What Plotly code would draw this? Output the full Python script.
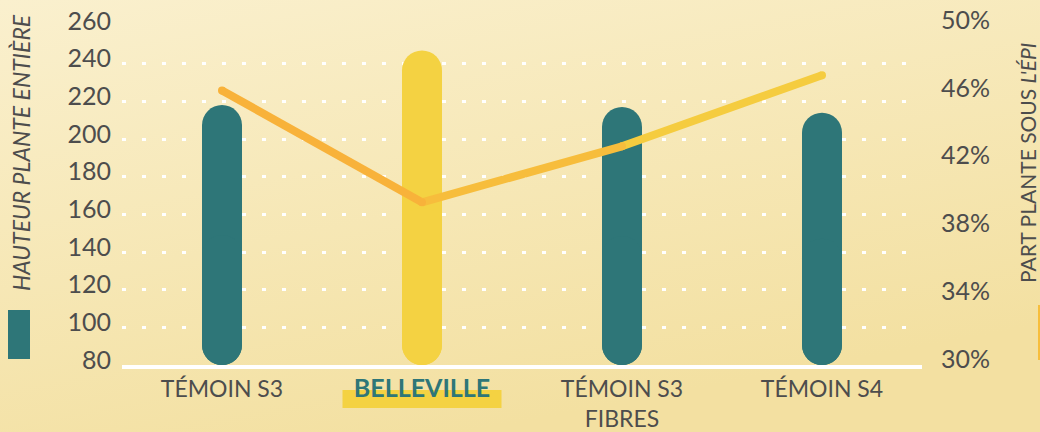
import base64
import plotly.graph_objects as go

# ---------------- data ----------------
categories = ["TÉMOIN S3", "BELLEVILLE", "TÉMOIN S3<br>FIBRES", "TÉMOIN S4"]
hauteur = [218, 247, 217, 214]            # hauteur plante entière (left axis)
part_epi = [46.2, 39.6, 42.9, 47.1]       # part plante sous l'épi, % (right axis)
left_ticks = [80, 100, 120, 140, 160, 180, 200, 220, 240, 260]
right_ticks = [30, 34, 38, 42, 46, 50]
right_tick_labels = ["30%", "34%", "38%", "42%", "46%", "50%"]
highlight = "BELLEVILLE"
left_title = "<i>HAUTEUR PLANTE ENTIÈRE</i>"
right_title = "PART PLANTE SOUS <i>L'ÉPI</i>"

# ---------------- style ----------------
W, H = 1040, 432
ML, MR, MT, MB = 122, 118, 26, 67
PW, PH = W - ML - MR, H - MT - MB
TEAL = "#2E7678"
YELLOW = "#F4D242"
TXT = "#4D4D4D"
SEG_COLORS = ["#F8B23A", "#F7BD3C", "#F5CC3F"]
FONT = "Lato, Open Sans, sans-serif"

idx = list(range(len(categories)))
y_min = left_ticks[0]
hi = categories.index(highlight)
bar_colors = [YELLOW if c == highlight else TEAL for c in categories]
ticktext = [
    f"<span style='color:{TEAL};font-weight:900;font-size:25px'><b>{c}</b></span>"
    if c == highlight else c
    for c in categories
]

fig = go.Figure()

# bars: upper part rounded at top, lower part rounded at bottom
fig.add_trace(go.Bar(
    x=idx, y=[h - y_min for h in hauteur], base=y_min, width=0.2,
    marker=dict(color=bar_colors, cornerradius=20, line_width=0),
    hoverinfo="skip",
))
mids = [(h + y_min) / 2 for h in hauteur]
fig.add_trace(go.Bar(
    x=idx, y=[y_min - m for m in mids], base=mids, width=0.2,
    marker=dict(color=bar_colors, cornerradius=20, line_width=0),
    hoverinfo="skip",
))

# line in segments (approximating the orange→yellow gradient)
for i in range(len(idx) - 1):
    fig.add_trace(go.Scatter(
        x=idx[i:i + 2], y=part_epi[i:i + 2], yaxis="y2", mode="lines",
        line=dict(color=SEG_COLORS[i], width=8), hoverinfo="skip",
    ))
cap_colors = [SEG_COLORS[0]] + SEG_COLORS
fig.add_trace(go.Scatter(
    x=idx, y=part_epi, yaxis="y2", mode="markers",
    marker=dict(color=cap_colors, size=8, line_width=0), hoverinfo="skip",
))

# gradient background
svg = (
    f'<svg xmlns="http://www.w3.org/2000/svg" width="{W}" height="{H}">'
    '<defs><linearGradient id="g" x1="0" y1="0" x2="0.45" y2="1">'
    '<stop offset="0" stop-color="#FAF0CE"/><stop offset="1" stop-color="#F3E0A1"/>'
    '</linearGradient></defs>'
    f'<rect width="{W}" height="{H}" fill="url(#g)"/></svg>'
)
src = "data:image/svg+xml;base64," + base64.b64encode(svg.encode()).decode()

def px_x(p):
    return (p - ML) / PW

def px_y(p):
    return (H - MB - p) / PH

fig.update_layout(
    width=W, height=H, autosize=False,
    margin=dict(l=ML, r=MR, t=MT, b=MB, pad=0, autoexpand=False),
    paper_bgcolor="#F6E7B6", plot_bgcolor="rgba(0,0,0,0)",
    barmode="overlay", showlegend=False,
    font=dict(family=FONT, color=TXT),
    images=[dict(source=src, xref="paper", yref="paper",
                 x=px_x(0), y=px_y(0), sizex=W / PW, sizey=H / PH,
                 xanchor="left", yanchor="top", sizing="stretch", layer="below")],
    xaxis=dict(
        range=[-0.5, len(categories) - 0.5], tickvals=idx, ticktext=ticktext,
        showgrid=False, zeroline=False, showline=True, linecolor="white", linewidth=4,
        ticks="", ticklabelstandoff=0, automargin=False,
        tickfont=dict(size=23, color=TXT, family=FONT),
    ),
    yaxis=dict(
        range=[left_ticks[0], left_ticks[-1]], tickvals=left_ticks,
        showgrid=True, gridcolor="white", gridwidth=3, griddash="4px,16px",
        zeroline=False, ticks="", ticklabelstandoff=10, ticklabelshift=-5,
        automargin=False,
        tickfont=dict(size=25, color=TXT, family=FONT),
    ),
    yaxis2=dict(
        range=[right_ticks[0], right_ticks[-1]], tickvals=right_ticks,
        ticktext=right_tick_labels,
        overlaying="y", side="right", showgrid=False, zeroline=False, ticks="",
        ticklabelstandoff=18, ticklabelshift=-6, automargin=False,
        tickfont=dict(size=25, color=TXT, family=FONT),
    ),
    shapes=[
        # highlight behind BELLEVILLE label
        dict(type="rect", xref="x", yref="paper", x0=hi - 0.3975, x1=hi + 0.3975,
             y0=px_y(408), y1=px_y(390), fillcolor=YELLOW, line_width=0, layer="below"),
        # legend swatches
        dict(type="rect", xref="paper", yref="paper", x0=px_x(8), x1=px_x(30),
             y0=px_y(359), y1=px_y(310), fillcolor=TEAL, line_width=0),
        dict(type="rect", xref="paper", yref="paper", x0=px_x(1038), x1=px_x(1046),
             y0=px_y(360), y1=px_y(305), fillcolor="#F7BE3C", line_width=0),
    ],
    annotations=[
        dict(text=left_title, xref="paper", yref="paper", x=px_x(21), y=px_y(153),
             xanchor="center", yanchor="middle", textangle=-90, showarrow=False,
             font=dict(size=23, color=TXT, family=FONT)),
        dict(text=right_title, xref="paper", yref="paper", x=px_x(1027), y=px_y(163),
             xanchor="center", yanchor="middle", textangle=-90, showarrow=False,
             font=dict(size=21, color=TXT, family=FONT)),
    ],
)

fig.write_html(
    "out.html",
    config={"displayModeBar": False},
    post_script="document.body.style.margin='0';document.body.style.overflow='hidden';",
)
